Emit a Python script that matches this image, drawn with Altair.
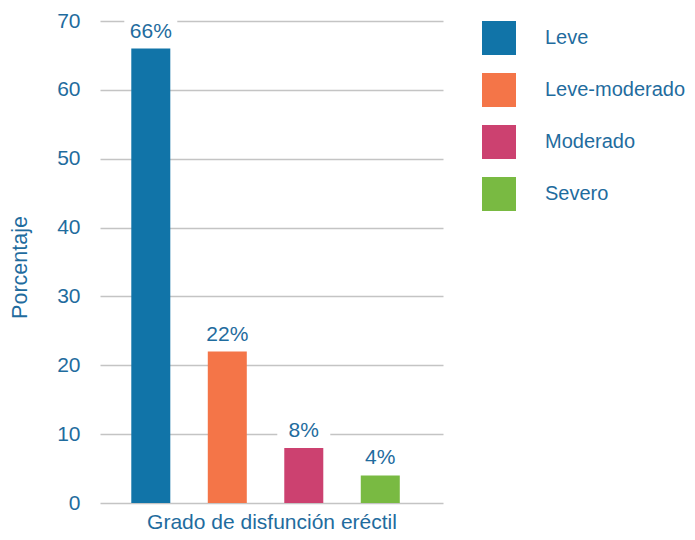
import altair as alt
import pandas as pd

categories = ["Leve", "Leve-moderado", "Moderado", "Severo"]
values = [66, 22, 8, 4]
labels = ["66%", "22%", "8%", "4%"]
colors = ["#1174A8", "#F47548", "#CC4170", "#79BA42"]

TXT = "#1F6C9E"
FONT = "Liberation Sans"

df = pd.DataFrame({"cat": categories, "v": values, "lab": labels})

x_enc = alt.X("cat:N", sort=categories,
              scale=alt.Scale(paddingInner=0.49, paddingOuter=0.487, align=0.42),
              axis=alt.Axis(title="Grado de disfunción eréctil", labels=False, ticks=False,
                            domain=False, grid=False, titlePadding=8, titleFontSize=21,
                            titleFontWeight="normal", titleColor=TXT, titleFont=FONT))

base = alt.Chart(df)

bars = base.mark_bar().encode(
    x=x_enc,
    y=alt.Y("v:Q", scale=alt.Scale(domain=[0, 70]),
            axis=alt.Axis(title="Porcentaje", values=[0, 10, 20, 30, 40, 50, 60, 70],
                          ticks=False, domain=False, labelPadding=20, labelFontSize=21,
                          labelColor=TXT, labelFont=FONT, titleFontSize=21.5,
                          titleFontWeight="normal", titleColor=TXT, titleFont=FONT,
                          titlePadding=25, titleY=246, gridColor="#C4C4C4", gridWidth=1.5)),
    color=alt.Color("cat:N", sort=categories,
                    scale=alt.Scale(domain=categories, range=colors),
                    legend=alt.Legend(title=None, symbolType="square", symbolSize=1156,
                                      symbolStrokeWidth=0, symbolOpacity=1,
                                      labelFontSize=20, labelColor=TXT, labelFont=FONT,
                                      labelOffset=29, rowPadding=18, padding=0, offset=39)),
)

bg = base.transform_calculate(lo="datum.v + 0.7", hi="datum.v + 4.5").mark_bar(
    color="white", size=53).encode(
    x=alt.X("cat:N", sort=categories),
    y="lo:Q", y2="hi:Q")

text = base.mark_text(baseline="alphabetic", dy=-11, fontSize=21, color=TXT, font=FONT).encode(
    x=alt.X("cat:N", sort=categories),
    y="v:Q",
    text="lab:N")

chart = alt.layer(bg, bars, text).properties(
    width=343, height=482,
    padding={"left": 92, "top": 13, "right": 244, "bottom": 29},
    autosize=alt.AutoSizeParams(type="none"),
).configure(font=FONT).configure_view(stroke=None)

chart.save("out.html", embed_options={"renderer": "svg", "actions": False})
